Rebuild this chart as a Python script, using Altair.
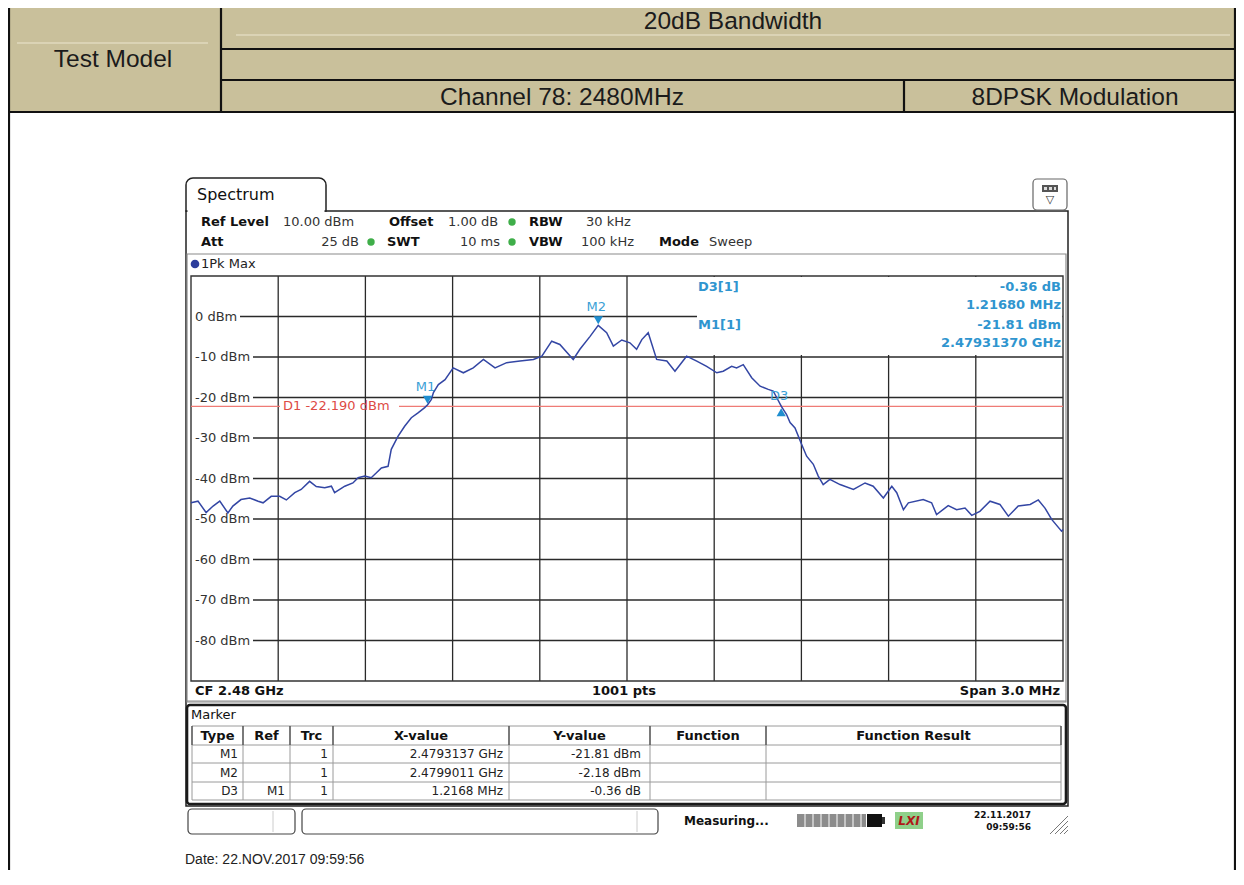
import altair as alt
import pandas as pd

# ---------------- data ----------------
freq_mhz = [2478.500, 2478.524, 2478.552, 2478.576, 2478.599, 2478.627, 2478.644, 2478.672,
            2478.702, 2478.731, 2478.748, 2478.776, 2478.805, 2478.828, 2478.857, 2478.879,
            2478.908, 2478.931, 2478.960, 2478.983, 2478.994, 2479.029, 2479.057, 2479.075,
            2479.098, 2479.120, 2479.138, 2479.155, 2479.178, 2479.189, 2479.212, 2479.235,
            2479.258, 2479.281, 2479.304, 2479.314, 2479.327, 2479.334, 2479.344, 2479.351,
            2479.374, 2479.402, 2479.437, 2479.471, 2479.506, 2479.546, 2479.586, 2479.632,
            2479.678, 2479.707, 2479.741, 2479.769, 2479.815, 2479.838, 2479.873, 2479.901,
            2479.930, 2479.953, 2479.982, 2480.010, 2480.033, 2480.051, 2480.073, 2480.102,
            2480.137, 2480.165, 2480.205, 2480.240, 2480.274, 2480.309, 2480.331, 2480.360,
            2480.377, 2480.400, 2480.429, 2480.458, 2480.486, 2480.503, 2480.531, 2480.549,
            2480.561, 2480.578, 2480.601, 2480.618, 2480.641, 2480.658, 2480.675, 2480.698,
            2480.733, 2480.779, 2480.819, 2480.847, 2480.882, 2480.911, 2480.928, 2480.951,
            2480.968, 2481.019, 2481.048, 2481.065, 2481.105, 2481.134, 2481.163, 2481.186,
            2481.214, 2481.249, 2481.283, 2481.312, 2481.346, 2481.387, 2481.415, 2481.438,
            2481.461, 2481.495, 2481.500]
level_dbm = [-46.0, -45.6, -48.4, -46.8, -45.6, -48.5, -46.8, -45.2,
             -44.8, -45.6, -46.0, -44.4, -44.4, -45.3, -43.5, -42.7,
             -40.7, -42.0, -42.3, -41.9, -43.5, -41.9, -41.1, -39.8,
             -39.4, -39.8, -38.6, -37.4, -37.0, -32.8, -29.6, -27.1,
             -25.0, -23.8, -22.5, -21.8, -20.5, -18.8, -17.6, -16.8,
             -15.6, -12.7, -13.9, -12.7, -10.6, -12.7, -11.4, -11.0,
             -10.6, -9.8, -6.1, -6.9, -10.6, -8.1, -4.9, -2.2,
             -4.0, -7.3, -5.8, -6.5, -8.1, -5.7, -4.0, -10.6,
             -11.0, -13.5, -9.8, -11.0, -12.3, -13.9, -13.5, -12.3,
             -12.7, -11.9, -15.1, -17.2, -18.0, -18.4, -22.2, -24.2,
             -26.2, -27.5, -31.6, -34.5, -36.5, -39.4, -41.5, -40.2,
             -41.5, -42.7, -41.1, -41.9, -44.8, -41.9, -43.5, -47.7,
             -46.0, -45.2, -46.0, -48.9, -46.7, -47.7, -47.3, -49.1,
             -48.1, -45.6, -46.4, -49.3, -46.8, -46.4, -45.3, -47.3,
             -50.1, -53.0, -52.6]

marker_names = ["M1", "M2", "D3"]
marker_freq_mhz = [2479.3137, 2479.9011, 2480.5305]
marker_level_dbm = [-21.81, -2.18, -22.17]
marker_dir = ["down", "down", "up"]

d1_level = -22.190
y_levels = [0, -10, -20, -30, -40, -50, -60, -70, -80]
y_labels = ["0 dBm", "-10 dBm", "-20 dBm", "-30 dBm", "-40 dBm", "-50 dBm", "-60 dBm", "-70 dBm", "-80 dBm"]
x_grid_mhz = [2478.8, 2479.1, 2479.4, 2479.7, 2480.0, 2480.3, 2480.6, 2480.9, 2481.2]

tbl_type = ["M1", "M2", "D3"]
tbl_ref = ["", "", "M1"]
tbl_trc = ["1", "1", "1"]
tbl_x = ["2.4793137 GHz", "2.4799011 GHz", "1.2168 MHz"]
tbl_y = ["-21.81 dBm", "-2.18 dBm", "-0.36 dB"]
tbl_cols = ["Type", "Ref", "Trc", "X-value", "Y-value", "Function", "Function Result"]

# ---------------- geometry ----------------
OX, OY = 191, 276          # plot origin on the page
W, H = 872, 405
XDOM = [2478.5, 2481.5]
YDOM = [-90, 10]
INST = "DejaVu Sans"
ARIAL = "Liberation Sans"

xs = alt.Scale(domain=XDOM, nice=False, zero=False)
ys = alt.Scale(domain=YDOM, nice=False, zero=False)


def one():
    return pd.DataFrame({"a": [0]})


def rects(rows, **kw):
    df = pd.DataFrame([{"x": a - OX, "y": b - OY, "x2": c - OX, "y2": d - OY} for a, b, c, d in rows])
    return alt.Chart(df).mark_rect(**kw).encode(
        x=alt.X("x:Q", scale=None, axis=None), x2="x2:Q",
        y=alt.Y("y:Q", scale=None, axis=None), y2="y2:Q")


def rules(rows, **kw):
    df = pd.DataFrame([{"x": a - OX, "y": b - OY, "x2": c - OX, "y2": d - OY} for a, b, c, d in rows])
    return alt.Chart(df).mark_rule(**kw).encode(
        x=alt.X("x:Q", scale=None, axis=None), x2="x2:Q",
        y=alt.Y("y:Q", scale=None, axis=None), y2="y2:Q")


def texts(rows, **kw):
    kw.setdefault("baseline", "middle")
    df = pd.DataFrame([{"x": a - OX, "y": b - OY, "t": t} for a, b, t in rows])
    return alt.Chart(df).mark_text(**kw).encode(
        x=alt.X("x:Q", scale=None, axis=None),
        y=alt.Y("y:Q", scale=None, axis=None), text="t:N")


layers = []

# ---------- report table header ----------
TAN = "#c9c09b"
layers.append(rects([(0, 0, 1244, 112)], fill=TAN))
layers.append(rules([(17, 43, 208, 43), (236, 35, 1230, 35)], color="#ece6cf", strokeWidth=1))
layers.append(rules([(0, 2, 1244, 2), (221, 49, 1244, 49), (221, 80, 1244, 80), (0, 112, 1244, 112),
                     (221, 0, 221, 112), (904, 80, 904, 112), (9, 0, 9, 885), (1235, 0, 1235, 885)],
                    color="#111", strokeWidth=2.2))
layers.append(texts([(733, 22, "20dB Bandwidth"), (113, 60, "Test Model"),
                     (562, 98, "Channel 78: 2480MHz"), (1075, 98, "8DPSK Modulation")],
                    font=ARIAL, fontSize=24.5, color="#1b1b1b", align="center"))

# ---------- instrument window ----------
layers.append(rects([(186, 211, 1068, 806)], fill=None, stroke="#222", strokeWidth=1.5))
layers.append(rects([(186, 178, 326, 211)], fill="white", stroke="#222", strokeWidth=1.5,
                    cornerRadiusTopLeft=7, cornerRadiusTopRight=7))
layers.append(rects([(187.5, 208, 324.5, 213)], fill="white"))
layers.append(texts([(197, 195, "Spectrum")], font=INST, fontSize=16, fontWeight=500, color="#111", align="left"))
# icon top right
layers.append(rects([(1033, 179, 1067, 210)], fill="white", stroke="#666", strokeWidth=1.2, cornerRadius=4))
layers.append(rects([(1042, 185, 1058, 192)], fill="#555"))
layers.append(rects([(1044, 187, 1047, 190), (1049, 187, 1052, 190), (1054, 187, 1056, 190)], fill="#ddd"))
layers.append(texts([(1050, 200, "▽")], font=INST, fontSize=11, color="#333", align="center"))

# settings rows
layers.append(texts([(201, 222, "Ref Level"), (389, 222, "Offset"), (529, 222, "RBW"),
                     (201, 242, "Att"), (387, 242, "SWT"), (529, 242, "VBW"), (659, 242, "Mode")],
                    font=INST, fontSize=13, fontWeight="bold", color="#111", align="left"))
layers.append(texts([(283, 222, "10.00 dBm"), (448, 222, "1.00 dB"), (586, 222, "30 kHz"),
                     (709, 242, "Sweep")],
                    font=INST, fontSize=13, color="#333", align="left"))
layers.append(texts([(359, 242, "25 dB"), (500, 242, "10 ms"), (634, 242, "100 kHz")],
                    font=INST, fontSize=13, color="#333", align="right"))
layers.append(alt.Chart(pd.DataFrame({"x": [512 - OX, 371 - OX, 512 - OX], "y": [222 - OY, 242 - OY, 242 - OY]}))
              .mark_point(shape="circle", filled=True, size=55, color="#3fae49", opacity=1)
              .encode(x=alt.X("x:Q", scale=None, axis=None), y=alt.Y("y:Q", scale=None, axis=None)))

# trace box
layers.append(rects([(187, 254, 1066, 702)], fill=None, stroke="#8a8a8a", strokeWidth=1.2))
layers.append(alt.Chart(one()).mark_point(shape="circle", filled=True, size=75, color="#2c3d9c", opacity=1)
              .encode(x=alt.value(195 - OX), y=alt.value(264 - OY)))
layers.append(texts([(201, 264, "1Pk Max")], font=INST, fontSize=13, color="#222", align="left"))

# ---------- grid ----------
vgrid = pd.DataFrame({"f": x_grid_mhz})
layers.append(alt.Chart(vgrid).mark_rule(color="#2a2a2a", strokeWidth=1.3).encode(
    x=alt.X("f:Q", scale=xs, axis=None), y=alt.value(0), y2=alt.value(H)))
hgrid = pd.DataFrame({"v": y_levels, "label": y_labels})
layers.append(alt.Chart(hgrid).transform_calculate(xs="49 + (length(datum.label) - 5) * 6.5")
              .mark_rule(color="#2a2a2a", strokeWidth=1.3).encode(
    x=alt.X("xs:Q", scale=None, axis=None), x2=alt.value(W),
    y=alt.Y("v:Q", scale=ys, axis=None)))
# marker info area (covers grid)
layers.append(rects([(697, 277, 1062.5, 355)], fill="white"))
# plot frame
layers.append(rects([(191, 276, 1063, 681)], fill=None, stroke="#333", strokeWidth=1.4))
layers.append(alt.Chart(hgrid).mark_text(font=INST, fontSize=13, color="#333", align="left", baseline="middle")
              .encode(x=alt.value(195 - OX), y=alt.Y("v:Q", scale=ys, axis=None), text="label:N"))

# D1 line
d1 = pd.DataFrame({"v": [d1_level], "label": ["D1  -22.190 dBm"]})
layers.append(alt.Chart(d1).mark_rule(color="#ef7b76", strokeWidth=1.3).encode(
    x=alt.value(0), x2=alt.value(280 - OX), y=alt.Y("v:Q", scale=ys, axis=None)))
layers.append(alt.Chart(d1).mark_rule(color="#ef7b76", strokeWidth=1.3).encode(
    x=alt.value(399 - OX), x2=alt.value(W), y=alt.Y("v:Q", scale=ys, axis=None)))
layers.append(alt.Chart(d1).mark_text(font=INST, fontSize=13, color="#dd4b45", align="left", baseline="middle")
              .encode(x=alt.value(283 - OX), y=alt.Y("v:Q", scale=ys, axis=None), text="label:N"))

# trace
trace = pd.DataFrame({"f": freq_mhz, "v": level_dbm})
layers.append(alt.Chart(trace).mark_line(color="#3346a4", strokeWidth=1.5).encode(
    x=alt.X("f:Q", scale=xs, axis=None), y=alt.Y("v:Q", scale=ys, axis=None), order="f:Q"))

# markers
mk = pd.DataFrame({"name": marker_names, "f": marker_freq_mhz, "v": marker_level_dbm, "dir": marker_dir})
MC = "#1f8ed0"
base_mk = alt.Chart(mk).encode(x=alt.X("f:Q", scale=xs, axis=None), y=alt.Y("v:Q", scale=ys, axis=None))
layers.append(base_mk.transform_filter("datum.dir == 'down'")
              .mark_point(shape="triangle-down", filled=True, size=85, color=MC, opacity=1, yOffset=-5))
layers.append(base_mk.transform_filter("datum.dir == 'up'")
              .mark_point(shape="triangle-up", filled=True, size=85, color=MC, opacity=1, yOffset=6))
layers.append(base_mk.transform_filter("datum.dir == 'down'")
              .mark_text(font=INST, fontSize=13, color="#3aa0d6", dy=-18, dx=-2).encode(text="name:N"))
layers.append(base_mk.transform_filter("datum.dir == 'up'")
              .mark_text(font=INST, fontSize=13, color="#3aa0d6", dy=-10, dx=-2).encode(text="name:N"))

# marker readout
IC = "#2f95cf"
layers.append(texts([(698, 287, "D3[1]"), (698, 325, "M1[1]")],
                    font=INST, fontSize=13, fontWeight="bold", color=IC, align="left"))
layers.append(texts([(1061, 287, "-0.36 dB"), (1061, 305, "1.21680 MHz"),
                     (1061, 325, "-21.81 dBm"), (1061, 343, "2.47931370 GHz")],
                    font=INST, fontSize=13, fontWeight="bold", color=IC, align="right"))

# footer of the trace box
layers.append(rules([(187, 701, 1066, 701)], color="#8a8a8a", strokeWidth=1))
layers.append(texts([(195, 691, "CF 2.48 GHz")], font=INST, fontSize=13, fontWeight="bold", color="#111", align="left"))
layers.append(texts([(624, 691, "1001 pts")], font=INST, fontSize=13, fontWeight="bold", color="#111", align="center"))
layers.append(texts([(1060, 691, "Span 3.0 MHz")], font=INST, fontSize=13, fontWeight="bold", color="#111", align="right"))

# ---------- marker table ----------
layers.append(rects([(187, 705, 1066, 804)], fill=None, stroke="#1a1a1a", strokeWidth=2.6, cornerRadius=3))
layers.append(texts([(191, 715, "Marker")], font=INST, fontSize=13, color="#111", align="left"))
colb = [192, 243, 290, 333, 509, 650, 766, 1061]
rowb = [726, 745, 763, 782, 800]
layers.append(rules([(colb[0], r, colb[-1], r) for r in rowb], color="#9a9a9a", strokeWidth=1))
layers.append(rules([(c, rowb[0], c, rowb[-1]) for c in colb], color="#9a9a9a", strokeWidth=1))
layers.append(rules([(c, rowb[0], c, rowb[1]) for c in colb], color="#444", strokeWidth=1.2))
layers.append(texts([((colb[i] + colb[i + 1]) / 2, 736, tbl_cols[i]) for i in range(7)],
                    font=INST, fontSize=13, fontWeight="bold", color="#111", align="center"))
row_rows = []
for i in range(3):
    yc = (rowb[i + 1] + rowb[i + 2]) / 2
    row_rows += [(colb[1] - 5, yc, tbl_type[i]), (colb[2] - 5, yc, tbl_ref[i]), (colb[3] - 5, yc, tbl_trc[i]),
                 (colb[4] - 6, yc, tbl_x[i]), (colb[5] - 9, yc, tbl_y[i])]
row_rows = [r for r in row_rows if r[2]]
layers.append(texts(row_rows, font=INST, fontSize=12, color="#222", align="right"))

# ---------- status bar ----------
layers.append(rects([(188, 809, 295, 834), (302, 809, 658, 834)], fill="white", stroke="#444",
                    strokeWidth=1.2, cornerRadius=4))
layers.append(rules([(273, 811, 273, 832), (637, 811, 637, 832)], color="#ccc", strokeWidth=1))
layers.append(texts([(684, 821, "Measuring...")], font=INST, fontSize=12, fontWeight="bold", color="#111", align="left"))
layers.append(rects([(797, 814, 866, 827)], fill="#8c8c8c"))
layers.append(rules([(x, 814, x, 827) for x in [805, 813, 821, 829, 837, 845, 853, 861]], color="#d8d8d8", strokeWidth=1.5))
layers.append(rects([(867, 814, 882, 827)], fill="#111"))
layers.append(rects([(882, 817, 885, 824)], fill="#333"))
layers.append(rects([(895, 812, 923, 829)], fill="#8fd08a"))
layers.append(texts([(909, 821, "LXI")], font=INST, fontSize=12, fontWeight="bold", fontStyle="italic",
                    color="#b01818", align="center"))
layers.append(texts([(1031, 815, "22.11.2017"), (1031, 827, "09:59:56")], font=INST, fontSize=9,
                    fontWeight="bold", color="#111", align="right"))
layers.append(rules([(1050, 834, 1068, 816), (1055, 834, 1068, 821), (1060, 834, 1068, 826), (1064, 834, 1068, 830)],
                    color="#777", strokeWidth=1))

layers.append(texts([(185, 860, "Date: 22.NOV.2017  09:59:56")], font=ARIAL, fontSize=14, color="#222", align="left"))

chart = alt.layer(*layers).properties(
    width=W, height=H,
    autosize=alt.AutoSizeParams(type="none"),
    padding={"left": OX - 8, "top": OY - 8, "right": 1236 - (OX + W), "bottom": 870 - (OY + H)},
    background="white",
).configure_view(stroke=None)

chart.save("out.html", embed_options={"renderer": "svg", "actions": False})
